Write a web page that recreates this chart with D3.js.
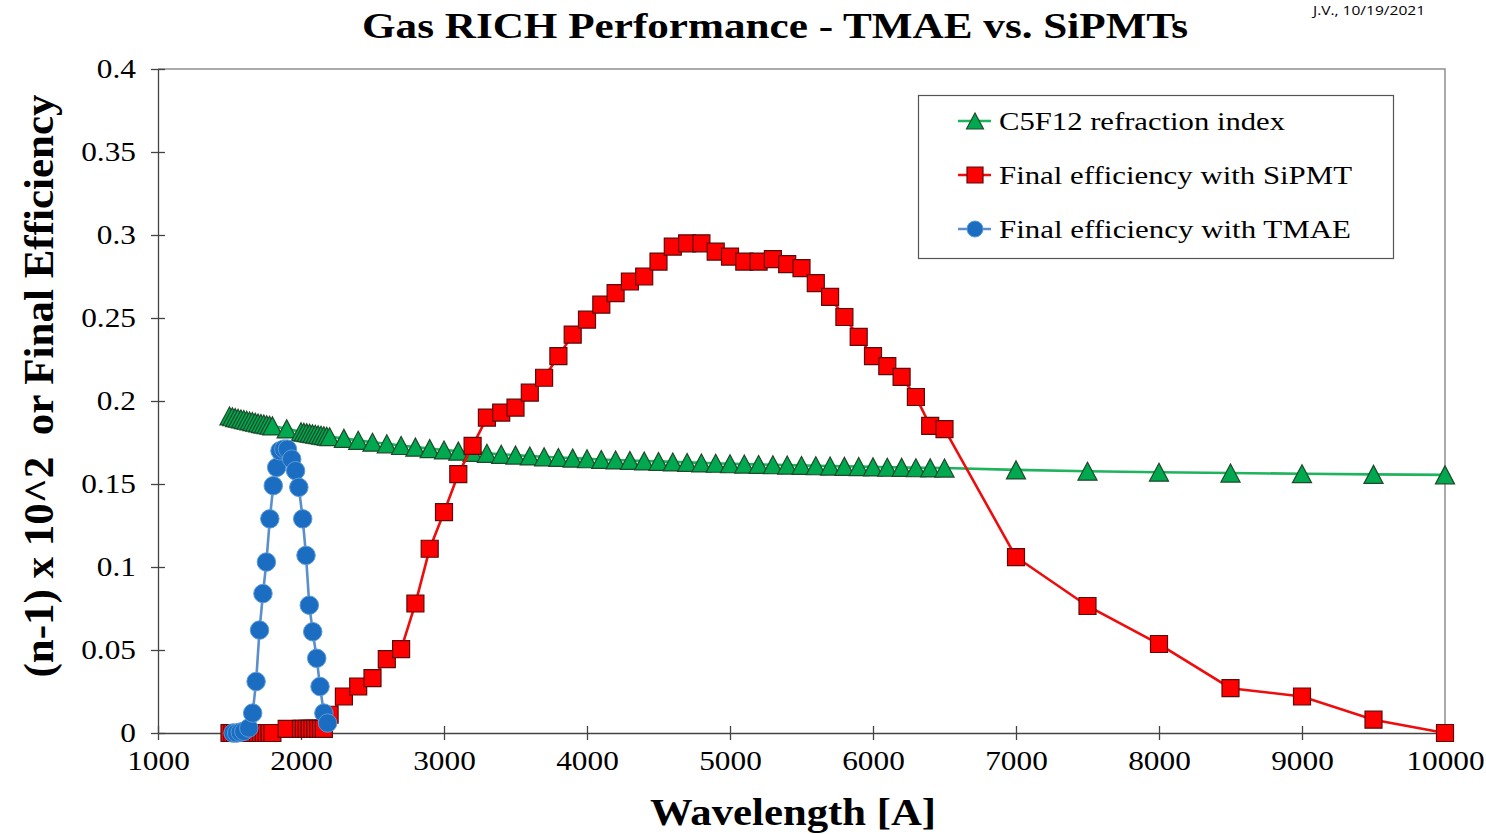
<!DOCTYPE html>
<html>
<head>
<meta charset="utf-8">
<script src="https://cdn.jsdelivr.net/npm/d3@7"></script>
<style>
  body { margin: 0; background: #fff; }
  svg { display: block; }
</style>
</head>
<body>
<svg id="chart" width="1486" height="834"></svg>
<script>
// wavelength in Angstrom
var c5f12Wl = [1500, 1520, 1540, 1560, 1580, 1600, 1620, 1640, 1660, 1680, 1700, 1720, 1740, 1760, 1780, 1800,
  1900, 2000, 2020, 2040, 2060, 2080, 2100, 2120, 2140, 2160, 2180, 2200,
  2300, 2400, 2500, 2600, 2700, 2800, 2900, 3000, 3100, 3200, 3300, 3400, 3500, 3600, 3700, 3800, 3900,
  4000, 4100, 4200, 4300, 4400, 4500, 4600, 4700, 4800, 4900, 5000, 5100, 5200, 5300, 5400, 5500,
  5600, 5700, 5800, 5900, 6000, 6100, 6200, 6300, 6400, 6500,
  7000, 7500, 8000, 8500, 9000, 9500, 10000]
var c5f12Val = [0.1910, 0.1905, 0.1900, 0.1896, 0.1892, 0.1888, 0.1884, 0.1880, 0.1876, 0.1872, 0.1868, 0.1864, 0.1861, 0.1857, 0.1854, 0.1850,
  0.1832, 0.1815, 0.1812, 0.1809, 0.1806, 0.1803, 0.1800, 0.1797, 0.1794, 0.1791, 0.1788, 0.1785,
  0.1775, 0.1763, 0.1752, 0.1742, 0.1732, 0.1722, 0.1713, 0.1705, 0.1698, 0.1691, 0.1685, 0.1679, 0.1674, 0.1669, 0.1664, 0.1660, 0.1656,
  0.1652, 0.1648, 0.1645, 0.1642, 0.1639, 0.1636, 0.1633, 0.1630, 0.1627, 0.1625, 0.1622, 0.1620, 0.1618, 0.1616, 0.1614, 0.1612,
  0.1610, 0.1608, 0.1606, 0.1605, 0.1603, 0.1601, 0.1600, 0.1598, 0.1597, 0.1596,
  0.1585, 0.1577, 0.1571, 0.1566, 0.1562, 0.1558, 0.1555]

var sipmWl = [1500, 1520, 1540, 1560, 1580, 1600, 1620, 1640, 1660, 1680, 1700, 1720, 1740, 1760, 1780, 1800,
  1900, 2000, 2020, 2040, 2060, 2080, 2100, 2120, 2140, 2160,
  2200, 2300, 2400, 2500, 2600, 2700, 2800, 2900, 3000, 3100, 3200, 3300, 3400, 3500, 3600, 3700, 3800, 3900,
  4000, 4100, 4200, 4300, 4400, 4500, 4600, 4700, 4800, 4900, 5000, 5100, 5200, 5300, 5400, 5500,
  5600, 5700, 5800, 5900, 6000, 6100, 6200, 6300, 6400, 6500,
  7000, 7500, 8000, 8500, 9000, 9500, 10000]
var sipmVal = [0, 0, 0, 0, 0, 0, 0, 0, 0, 0, 0, 0, 0, 0, 0, 0,
  0.0025, 0.0025, 0.0025, 0.0025, 0.0025, 0.0025, 0.0025, 0.0025, 0.0025, 0.0025,
  0.011, 0.022, 0.028, 0.033, 0.0445, 0.0505, 0.078, 0.111, 0.133, 0.156, 0.173, 0.190, 0.193, 0.196, 0.205, 0.214, 0.227, 0.240,
  0.249, 0.258, 0.265, 0.272, 0.275, 0.284, 0.293, 0.295, 0.295, 0.290, 0.287, 0.284, 0.284, 0.2855, 0.2825, 0.280,
  0.271, 0.2627, 0.2506, 0.2386, 0.227, 0.221, 0.2145, 0.2024, 0.185, 0.183,
  0.106, 0.0765, 0.0536, 0.027, 0.022, 0.008, 0]

var tmaeWl = [1525, 1550, 1575, 1600, 1635, 1662, 1686, 1710, 1734, 1758, 1782, 1806, 1830, 1853,
  1880, 1905, 1935, 1962, 1985, 2012, 2035, 2058, 2082, 2110, 2133, 2160, 2186]
var tmaeVal = [0, 0, 0.0005, 0.001, 0.003, 0.012, 0.031, 0.062, 0.084, 0.103, 0.129, 0.149, 0.160, 0.170,
  0.171, 0.171, 0.165, 0.158, 0.148, 0.129, 0.107, 0.077, 0.061, 0.045, 0.028, 0.012, 0.006]

var xTicks = [1000, 2000, 3000, 4000, 5000, 6000, 7000, 8000, 9000, 10000]
var yTicks = [0, 0.05, 0.1, 0.15, 0.2, 0.25, 0.3, 0.35, 0.4]
var seriesNames = ['C5F12 refraction index', 'Final efficiency with SiPMT', 'Final efficiency with TMAE']

var serif = '"Liberation Serif", "Times New Roman", serif'
var stretch = 1.16 // the original slide text is a little wider than Times
var svg = d3.select('#chart')

var x = d3.scaleLinear().domain([1000, 10000]).range([158, 1445])
var y = d3.scaleLinear().domain([0, 0.4]).range([733, 69])

// frame: top and right borders in grey
svg.append('path')
  .attr('d', 'M' + x(1000) + ',' + y(0.4) + 'H' + x(10000) + 'V' + y(0))
  .attr('fill', 'none').attr('stroke', '#8f8f8f').attr('stroke-width', 1.5)

// axes
var xAxis = svg.append('g')
  .attr('transform', 'translate(0,' + y(0) + ')')
  .call(d3.axisBottom(x).tickValues(xTicks).tickFormat(d3.format('d')).tickSizeInner(7).tickSizeOuter(0).tickPadding(10))
xAxis.selectAll('.tick line').attr('y1', -7)
var yAxis = svg.append('g')
  .attr('transform', 'translate(' + x(1000) + ',0)')
  .call(d3.axisLeft(y).tickValues(yTicks).tickFormat(d3.format('')).tickSizeInner(7).tickSizeOuter(0).tickPadding(12))
yAxis.selectAll('.tick line').attr('x1', 7)

svg.selectAll('.domain, .tick line').attr('stroke', '#444').attr('stroke-width', 1.3)
svg.selectAll('.tick text')
  .attr('font-family', serif).attr('font-size', 27).attr('fill', '#000')
  .attr('transform', 'scale(' + stretch + ',1)')
yAxis.selectAll('.tick text').attr('dy', '0.32em')
xAxis.selectAll('.tick text').attr('dy', '0.75em')

// marker shapes
function triangle(s) {
  return 'M0,' + (-s / 2) + 'L' + (s * 0.53) + ',' + (s / 2) + 'L' + (-s * 0.53) + ',' + (s / 2) + 'Z'
}
function square(s) {
  return 'M' + (-s / 2) + ',' + (-s / 2) + 'h' + s + 'v' + s + 'h' + (-s) + 'Z'
}

var series = [
  { name: seriesNames[0], wl: c5f12Wl, val: c5f12Val, line: '#1fb35d', fill: '#00a84f', stroke: '#1c4a2a', shape: 'tri', size: 18 },
  { name: seriesNames[1], wl: sipmWl, val: sipmVal, line: '#ee0c0c', fill: '#ff0000', stroke: '#5c0a0a', shape: 'sq', size: 17 },
  { name: seriesNames[2], wl: tmaeWl, val: tmaeVal, line: '#5a8fcc', fill: '#1a6dc0', stroke: '#5b9ad8', shape: 'circ', size: 18.5 }
]

var line = d3.line().x(function (d) { return x(d[0]) }).y(function (d) { return y(d[1]) })

function drawMarker(g, s, size) {
  if (s.shape === 'circ') {
    g.append('circle').attr('r', size / 2)
      .attr('fill', s.fill).attr('stroke', s.stroke).attr('stroke-width', 1)
  } else {
    g.append('path').attr('d', s.shape === 'tri' ? triangle(size) : square(size))
      .attr('fill', s.fill).attr('stroke', s.stroke).attr('stroke-width', 1.2)
  }
}

series.forEach(function (s) {
  var pts = s.wl.map(function (w, i) { return [w, s.val[i]] })
  var g = svg.append('g')
  g.append('path').datum(pts).attr('d', line)
    .attr('fill', 'none').attr('stroke', s.line).attr('stroke-width', 2.6)
  g.selectAll('g.pt').data(pts).enter().append('g')
    .attr('class', 'pt')
    .attr('transform', function (d) { return 'translate(' + x(d[0]) + ',' + y(d[1]) + ')' })
    .each(function () { drawMarker(d3.select(this), s, s.size) })
})

// legend
var legendWidths = [286, 353, 352]
var legend = svg.append('g')
legend.append('rect')
  .attr('x', 918.5).attr('y', 95.5).attr('width', 475).attr('height', 163)
  .attr('fill', '#fff').attr('stroke', '#555').attr('stroke-width', 1.2)
series.forEach(function (s, i) {
  var row = legend.append('g').attr('transform', 'translate(975,' + (121 + i * 54) + ')')
  row.append('line').attr('x1', -17).attr('x2', 16)
    .attr('stroke', s.line).attr('stroke-width', 2.6)
  drawMarker(row, s, 16)
  row.append('text').attr('x', 24).attr('dy', '0.34em')
    .attr('font-family', serif).attr('font-size', 26)
    .attr('textLength', legendWidths[i]).attr('lengthAdjust', 'spacingAndGlyphs')
    .text(s.name)
})

// titles
svg.append('text')
  .attr('x', 775).attr('y', 38).attr('text-anchor', 'middle')
  .attr('font-family', serif).attr('font-weight', 'bold').attr('font-size', 36)
  .attr('textLength', 826).attr('lengthAdjust', 'spacingAndGlyphs')
  .text('Gas RICH Performance - TMAE vs. SiPMTs')
svg.append('text')
  .attr('x', 793).attr('y', 825).attr('text-anchor', 'middle')
  .attr('font-family', serif).attr('font-weight', 'bold').attr('font-size', 37)
  .attr('textLength', 286).attr('lengthAdjust', 'spacingAndGlyphs')
  .text('Wavelength [A]')
svg.append('text')
  .attr('transform', 'translate(53,386) rotate(-90)').attr('text-anchor', 'middle')
  .attr('font-family', serif).attr('font-weight', 'bold').attr('font-size', 42)
  .attr('xml:space', 'preserve').style('white-space', 'pre')
  .attr('textLength', 583).attr('lengthAdjust', 'spacingAndGlyphs')
  .text('(n-1) x 10^2  or Final Efficiency')
svg.append('text')
  .attr('x', 1313).attr('y', 15)
  .attr('font-family', '"Open Sans", "Liberation Sans", sans-serif').attr('font-size', 13)
  .attr('textLength', 112).attr('lengthAdjust', 'spacingAndGlyphs')
  .text('J.V., 10/19/2021')
</script>
</body>
</html>
